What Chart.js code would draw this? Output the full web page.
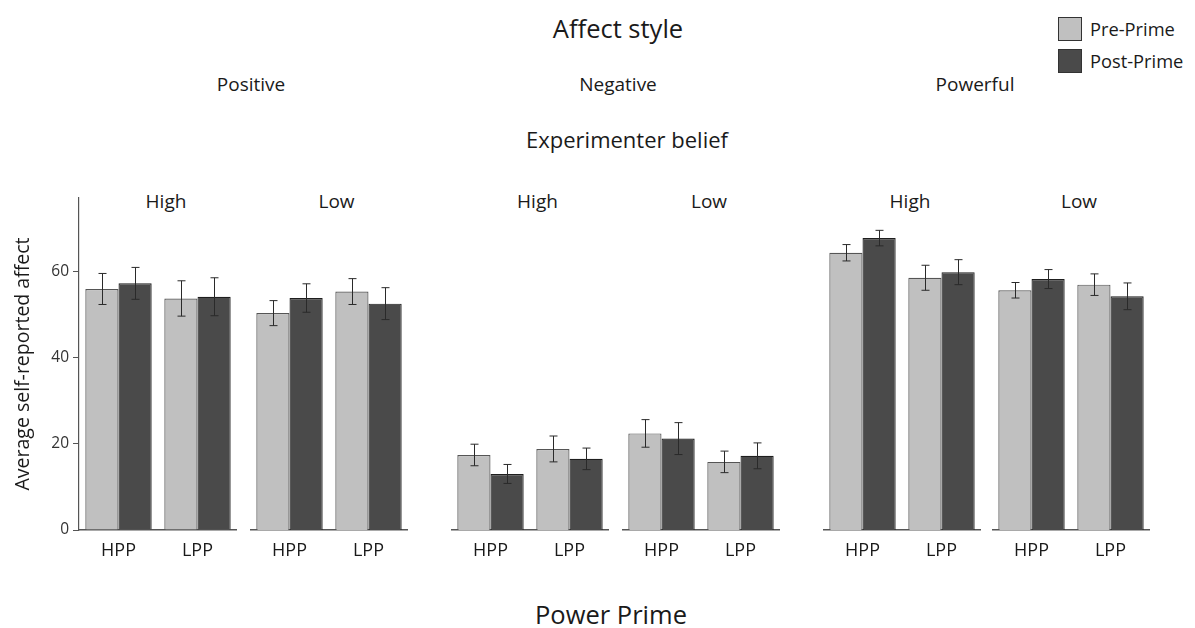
<!DOCTYPE html>
<html>
<head>
<meta charset="utf-8">
<script src="https://cdn.jsdelivr.net/npm/chart.js@4.4.0/dist/chart.umd.min.js"></script>
<style>
  body { margin: 0; background: #fff; font-family: "Open Sans", sans-serif; color: #1a1a1a; }
  #wrap { position: relative; width: 1195px; height: 628px; overflow: hidden; }
  .lbl { position: absolute; transform: translate(-50%, -50%); white-space: nowrap; }
  .box { position: absolute; width: 22px; height: 22px; border: 1px solid #333; }
  .chart { position: absolute; }
</style>
</head>
<body>
<div id="wrap"></div>
<script>
// categories and groups
const categories = ['HPP', 'LPP'];
const affectStyles = ['Positive', 'Negative', 'Powerful'];
const beliefs = ['High', 'Low'];

// values per group (Positive-High, Positive-Low, Negative-High, Negative-Low, Powerful-High, Powerful-Low)
const prePrime  = [[55.9, 53.7], [50.3, 55.3], [17.4, 18.8], [22.4, 15.8], [64.3, 58.5], [55.6, 56.9]];
const postPrime = [[57.2, 54.1], [53.8, 52.5], [13.0, 16.5], [21.2, 17.2], [67.7, 59.8], [58.2, 54.2]];
const preErr    = [[3.6, 4.1], [2.9, 3.0], [2.5, 3.0], [3.2, 2.5], [1.9, 2.9], [1.8, 2.5]];
const postErr   = [[3.7, 4.4], [3.3, 3.7], [2.2, 2.5], [3.7, 3.0], [1.8, 2.9], [2.2, 3.1]];

const yTicks = [0, 20, 40, 60];
const yMax = 77;

const seriesNames = ['Pre-Prime', 'Post-Prime'];
const seriesColors = ['#c0c0c0', '#4a4a4a'];
const seriesBorders = ['#555555', '#1e1e1e'];

// layout
const groupCenters = [158, 328.5, 529.5, 701, 902, 1071];
const groupWidth = 158;
const yAxisWidth = 79;
const areaTop = 198, areaBottom = 530;
const canvasTop = 174;  // leaves room above the plot area for the y tick label padding

const wrap = document.getElementById('wrap');

function addLabel(text, x, y, size) {
    const d = document.createElement('div');
    d.className = 'lbl';
    d.textContent = text;
    d.style.left = x + 'px';
    d.style.top = y + 'px';
    d.style.fontSize = size + 'px';
    wrap.appendChild(d);
}

addLabel('Affect style', 618, 28, 25.5);
addLabel('Experimenter belief', 627, 139, 22);
addLabel('Power Prime', 611, 614, 25.5);
affectStyles.forEach(function (s, i) {
    addLabel(s, [251, 618, 975][i], 84, 19);
});
groupCenters.forEach(function (c, g) {
    addLabel(beliefs[g % 2], c + 8, 201, 19);
});

// legend
seriesNames.forEach(function (name, i) {
    const b = document.createElement('div');
    b.className = 'box';
    b.style.left = '1058px';
    b.style.top = (17 + i * 32) + 'px';
    b.style.background = seriesColors[i];
    wrap.appendChild(b);
    const t = document.createElement('div');
    t.className = 'lbl';
    t.style.transform = 'translate(0, -50%)';
    t.style.left = '1090px';
    t.style.top = (28 + i * 32) + 'px';
    t.style.fontSize = '18.3px';
    t.textContent = name;
    wrap.appendChild(t);
});

// error bars drawn from the dataset's own scale
const errorBars = {
    id: 'errorBars',
    afterDatasetsDraw(chart) {
        const ctx = chart.ctx;
        const yScale = chart.scales.y;
        ctx.save();
        ctx.strokeStyle = '#2a2a2a';
        ctx.lineWidth = 1;
        chart.data.datasets.forEach(function (ds, di) {
            const meta = chart.getDatasetMeta(di);
            meta.data.forEach(function (bar, j) {
                const v = ds.data[j], e = ds.errors[j];
                const x = Math.round(bar.x) + 0.5;
                const y1 = yScale.getPixelForValue(v + e);
                const y2 = yScale.getPixelForValue(v - e);
                ctx.beginPath();
                ctx.moveTo(x, y1); ctx.lineTo(x, y2);
                ctx.moveTo(x - 4, y1); ctx.lineTo(x + 4, y1);
                ctx.moveTo(x - 4, y2); ctx.lineTo(x + 4, y2);
                ctx.stroke();
            });
        });
        ctx.restore();
    }
};

groupCenters.forEach(function (c, g) {
    const first = g === 0;
    const left = first ? 0 : c - groupWidth / 2;
    const width = first ? yAxisWidth + groupWidth : groupWidth;
    const height = (areaTop - canvasTop) + (areaBottom - areaTop) + 40;

    const div = document.createElement('div');
    div.className = 'chart';
    div.style.left = left + 'px';
    div.style.top = canvasTop + 'px';
    div.style.width = width + 'px';
    div.style.height = height + 'px';
    const canvas = document.createElement('canvas');
    div.appendChild(canvas);
    wrap.appendChild(div);

    new Chart(canvas.getContext('2d'), {
        type: 'bar',
        data: {
            labels: categories,
            datasets: [
                { label: seriesNames[0], data: prePrime[g], errors: preErr[g],
                  backgroundColor: seriesColors[0], borderColor: seriesBorders[0], borderWidth: 1.2 },
                { label: seriesNames[1], data: postPrime[g], errors: postErr[g],
                  backgroundColor: seriesColors[1], borderColor: seriesBorders[1], borderWidth: 1.2 }
            ]
        },
        options: {
            responsive: true,
            maintainAspectRatio: false,
            animation: false,
            layout: { padding: { top: areaTop - canvasTop, left: 0, right: 0, bottom: 0 } },
            plugins: { legend: { display: false }, tooltip: { enabled: false } },
            datasets: { bar: { categoryPercentage: 0.84, barPercentage: 1 } },
            scales: {
                x: {
                    grid: { display: false },
                    border: { display: true, color: '#555', width: 1.5 },
                    ticks: { color: '#1a1a1a', padding: 2, maxRotation: 0, minRotation: 0, autoSkip: false,
                             font: { family: 'Open Sans', size: 18 } },
                    afterFit: function (scale) { scale.height = 40; }
                },
                y: {
                    display: first,
                    min: 0,
                    max: yMax,
                    afterBuildTicks: function (scale) {
                        scale.ticks = yTicks.map(function (v) { return { value: v }; });
                    },
                    afterFit: function (scale) { if (first) scale.width = yAxisWidth; },
                    grid: { drawOnChartArea: false, drawTicks: true, tickLength: 6, color: '#555' },
                    border: { display: true, color: '#555', width: 1.2 },
                    ticks: { color: '#333', padding: 4, font: { family: 'Open Sans', size: 15.5 } },
                    title: {
                        display: true,
                        text: 'Average self-reported affect',
                        color: '#1a1a1a',
                        padding: { top: 12, bottom: 0 },
                        font: { family: 'Open Sans', size: 19.5 }
                    }
                }
            }
        },
        plugins: [errorBars]
    });
});
</script>
</body>
</html>
